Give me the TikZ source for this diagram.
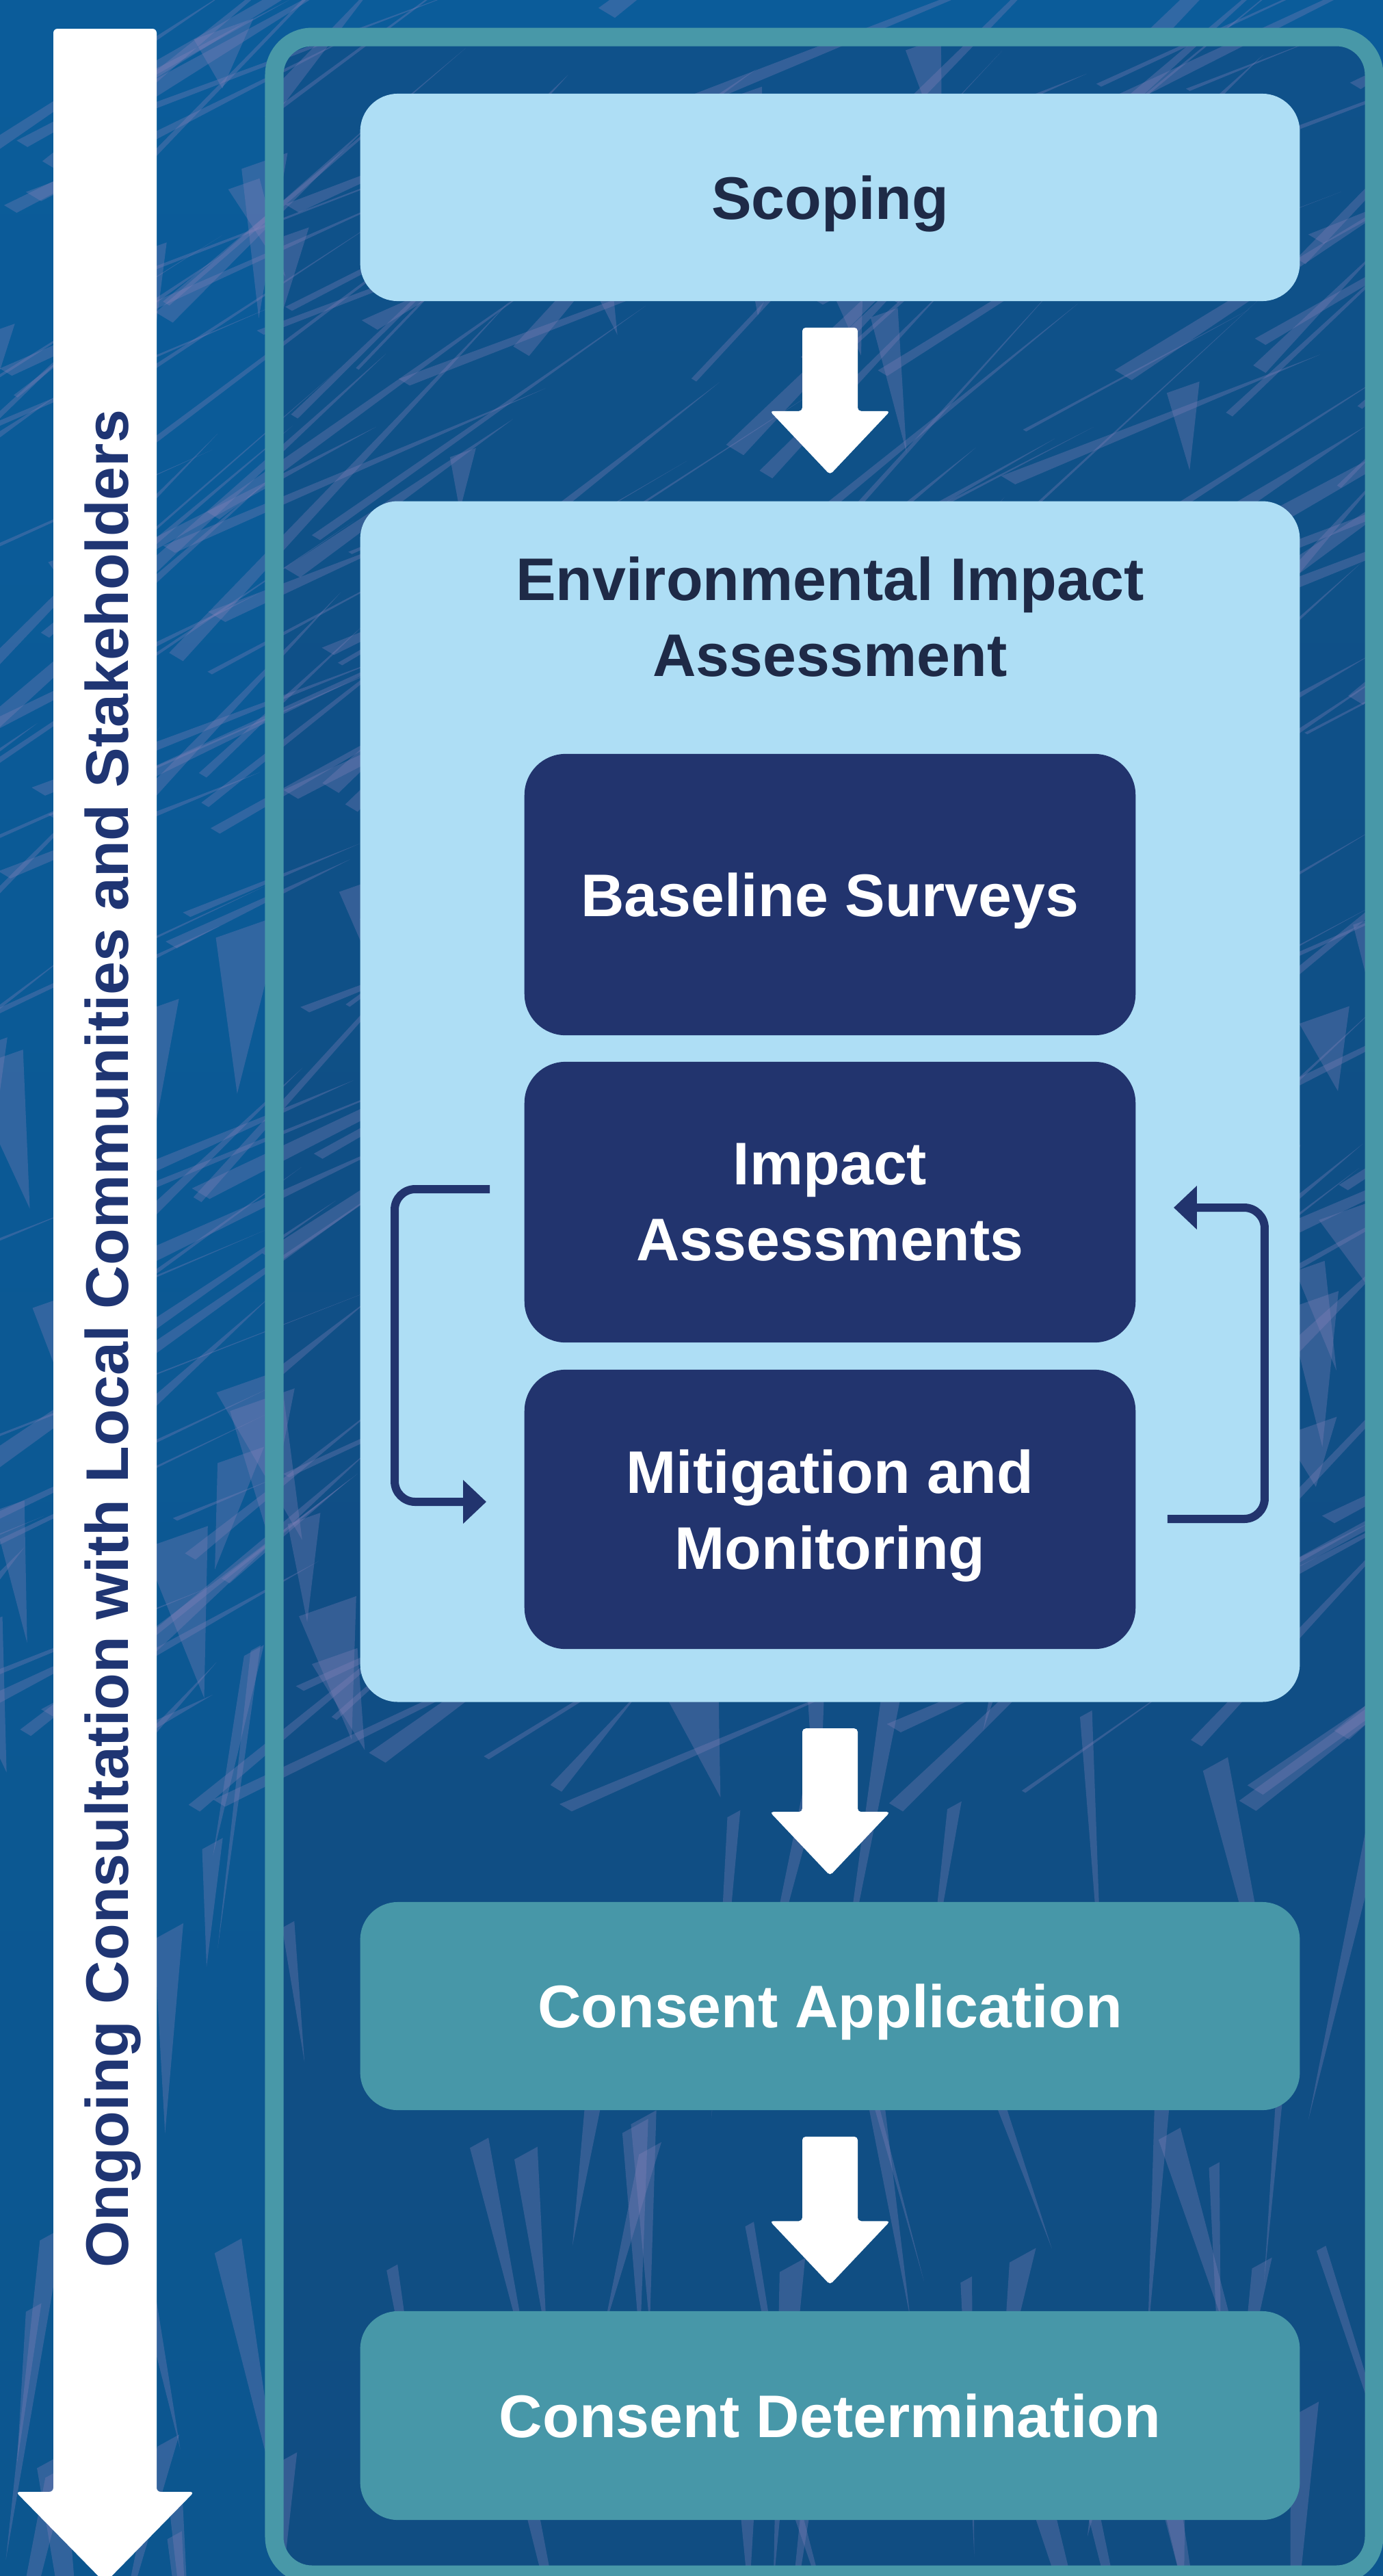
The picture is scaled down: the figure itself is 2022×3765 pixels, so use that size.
\documentclass[tikz,border=0pt]{standalone}
\usepackage{fontspec}
\setmainfont{Liberation Sans}
\usetikzlibrary{arrows.meta,calc}
\definecolor{bgtop}{HTML}{0B5C9A}
\definecolor{bgbot}{HTML}{0C568F}
\definecolor{innerdark}{HTML}{1A3A66}
\definecolor{streakc}{HTML}{8A84BC}
\definecolor{framec}{HTML}{4898A8}
\definecolor{lightboxc}{HTML}{AEDEF5}
\definecolor{navyboxc}{HTML}{22346E}
\definecolor{tealboxc}{HTML}{4797A8}
\definecolor{darktext}{HTML}{1E2A47}
\definecolor{sidetext}{HTML}{1F3573}
\newcommand{\boxfont}{\fontsize{25}{31.6}\selectfont\bfseries}
\newcommand{\fatarrow}[2]{%
  \fill[fatarrowstyle] ($(#1.south)+(-40.5,38)$) -- ($(#2.north)+(-40.5,-131)$)
    -- ($(#2.north)+(-88,-131)$) -- ($(#2.north)+(0,-38)$) -- ($(#2.north)+(88,-131)$)
    -- ($(#2.north)+(40.5,-131)$) -- ($(#1.south)+(40.5,38)$) -- cycle;}
\begin{document}
\begin{tikzpicture}[x=0.01cm,y=-0.01cm,
  lbox/.style={fill=lightboxc, rounded corners=0.55cm, inner sep=0pt, minimum width=13.73cm,
    text=darktext, font=\boxfont, align=center, text depth=0pt},
  nbox/.style={fill=navyboxc, rounded corners=0.6cm, inner sep=0pt, minimum width=8.93cm,
    text=white, font=\boxfont, align=center, text depth=0pt},
  tbox/.style={fill=tealboxc, rounded corners=0.55cm, inner sep=0pt, minimum width=13.73cm,
    text=white, font=\boxfont, align=center, text depth=0pt},
  fatarrowstyle/.style={fill=white, rounded corners=0.05cm},
  looparrow/.style={draw=navyboxc, line width=0.12cm, rounded corners=0.3cm,
    -{Triangle[length=0.34cm,width=0.62cm]}},
  streak/.style={fill=streakc, opacity=0.3}
]
\useasboundingbox (0,0) rectangle (2022,3765);
% background
\begin{scope}
\clip (0,0) rectangle (2022,3765);
\shade[top color=bgtop, bottom color=bgbot] (0,0) rectangle (2022,3765);
\fill[innerdark, opacity=0.3, rounded corners=0.55cm] (401,54) rectangle (2009,3763);
\pgfmathsetseed{4242}
% diagonal slivers (upper part)
\foreach \i in {1,...,260}{
  \pgfmathsetmacro{\xa}{-250+rnd*2350}
  \pgfmathsetmacro{\ya}{rnd*2650}
  \pgfmathsetmacro{\ln}{120+rnd*620}
  \pgfmathsetmacro{\an}{20+rnd*28}
  \pgfmathsetmacro{\wd}{4+rnd*22}
  \pgfmathsetmacro{\xb}{\xa+\ln*cos(\an)}
  \pgfmathsetmacro{\yb}{\ya-\ln*sin(\an)}
  \pgfmathsetmacro{\xc}{\xa+\wd}
  \pgfmathsetmacro{\yc}{\ya+\wd*0.6}
  \fill[streak] (\xa,\ya) -- (\xb,\yb) -- (\xc,\yc) -- cycle;
}
% shards (upper part)
\foreach \i in {1,...,60}{
  \pgfmathsetmacro{\xa}{-100+rnd*2200}
  \pgfmathsetmacro{\ya}{rnd*2450}
  \pgfmathsetmacro{\wd}{35+rnd*90}
  \pgfmathsetmacro{\hh}{70+rnd*170}
  \pgfmathsetmacro{\tt}{-40+rnd*120}
  \pgfmathsetmacro{\xb}{\xa+\wd}
  \pgfmathsetmacro{\yb}{\ya-\wd*0.35}
  \pgfmathsetmacro{\xc}{\xa+\wd*0.5+\tt}
  \pgfmathsetmacro{\yc}{\ya+\hh}
  \fill[streak] (\xa,\ya) -- (\xb,\yb) -- (\xc,\yc) -- cycle;
}
% spikes (lower part)
\foreach \i in {1,...,65}{
  \pgfmathsetmacro{\xa}{-50+rnd*2100}
  \pgfmathsetmacro{\ya}{2350+rnd*1500}
  \pgfmathsetmacro{\ln}{150+rnd*380}
  \pgfmathsetmacro{\th}{-12+rnd*34}
  \pgfmathsetmacro{\wd}{12+rnd*32}
  \pgfmathsetmacro{\xb}{\xa+\wd}
  \pgfmathsetmacro{\yb}{\ya-\wd*0.55}
  \pgfmathsetmacro{\xc}{\xa+\ln*sin(\th)}
  \pgfmathsetmacro{\yc}{\ya+\ln*cos(\th)}
  \fill[streak] (\xa,\ya) -- (\xb,\yb) -- (\xc,\yc) -- cycle;
}
\end{scope}
% outer frame
\draw[framec, line width=0.27cm, rounded corners=0.55cm] (401,54) rectangle (2009,3763);
% left consultation arrow
\coordinate (ctop) at (153.5,42);
\coordinate (cbot) at (153.5,3775);
\fill[white, rounded corners=0.06cm] ($(ctop)+(-75.5,0)$) -- ($(ctop)+(75.5,0)$)
  -- ($(cbot)+(75.5,-133)$) -- ($(cbot)+(130.5,-133)$) -- (cbot)
  -- ($(cbot)+(-130.5,-133)$) -- ($(cbot)+(-75.5,-133)$) -- cycle;
\node[rotate=90, anchor=base, text=sidetext, font=\boxfont, inner sep=0pt] (consult)
  at (187,1957) {Ongoing Consultation with Local Communities and Stakeholders};
% boxes
\node[lbox, minimum height=3.03cm] (scoping) at (1213.5,288.5) {Scoping};
\node[lbox, minimum height=17.54cm] (eia) at (1213.5,1610) {};
\node[text=darktext, font=\boxfont, align=center, inner sep=0pt, text depth=0pt] (eiatitle)
  at (1213.5,901) {Environmental Impact\\Assessment};
\node[nbox, minimum height=4.11cm] (baseline) at (1213.5,1307.5) {Baseline Surveys};
\node[nbox, minimum height=4.10cm] (impact) at (1213.5,1757) {Impact\\Assessments};
\node[nbox, minimum height=4.08cm] (mitig) at (1213.5,2206) {Mitigation and\\Monitoring};
\node[tbox, minimum height=3.04cm] (capp) at (1213.5,2932) {Consent Application};
\node[tbox, minimum height=3.05cm] (cdet) at (1213.5,3530.5) {Consent Determination};
% flow arrows
\fatarrow{scoping}{eia}
\fatarrow{eia}{capp}
\fatarrow{capp}{cdet}
% iteration loop
\draw[looparrow] ($(impact.west)+(-50,-19)$) -- ++(-139,0) |- ($(mitig.west)+(-55,-11)$);
\draw[looparrow] ($(mitig.east)+(46,14)$) -- ++(142,0) |- ($(impact.east)+(55,8)$);
\end{tikzpicture}
\end{document}
